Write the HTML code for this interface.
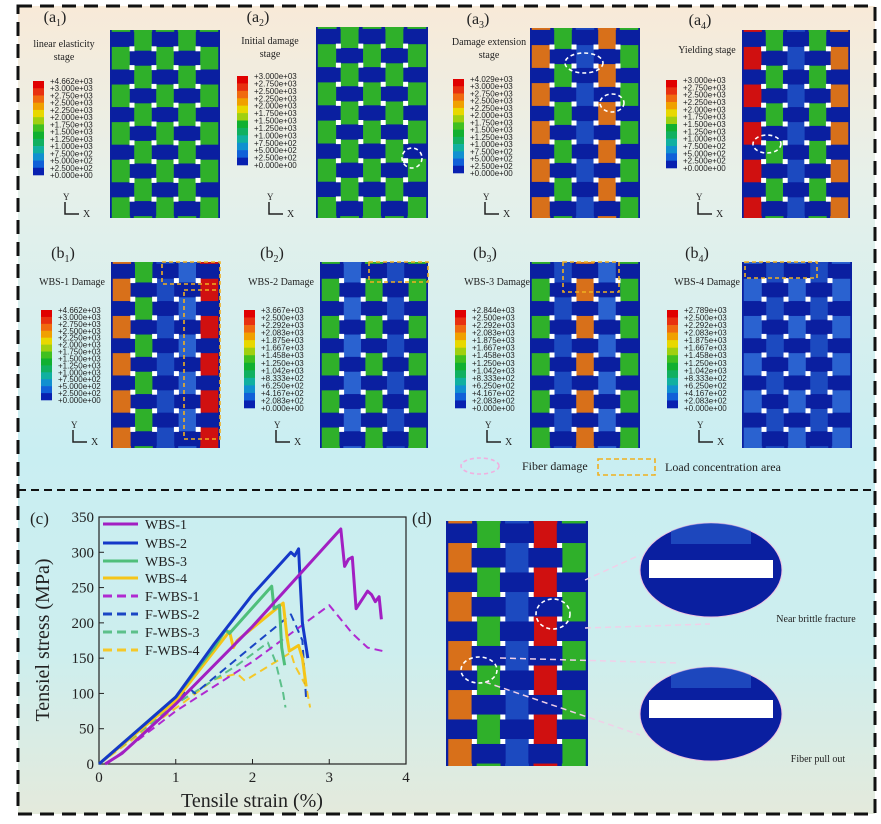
<!DOCTYPE html>
<html><head><meta charset="utf-8">
<style>
html,body{margin:0;padding:0;background:#fff}
svg{display:block;font-family:"Liberation Serif",serif}
</style></head>
<body>
<svg id="fig" width="881" height="824" viewBox="0 0 881 824" xmlns="http://www.w3.org/2000/svg">
<defs id="defs">
<linearGradient id="bg" x1="0" y1="0" x2="0" y2="1">
<stop offset="0" stop-color="#f8ead8"/>
<stop offset="0.22" stop-color="#e6f0ea"/>
<stop offset="0.55" stop-color="#c9eef2"/>
<stop offset="0.8" stop-color="#cdeeee"/>
<stop offset="1" stop-color="#e4eadc"/>
</linearGradient>
</defs>
<rect x="0" y="0" width="881" height="824" fill="#fff"/>
<rect x="18" y="6" width="857" height="808" fill="url(#bg)"/>
<rect x="18" y="6" width="857" height="808" fill="none" stroke="#111" stroke-width="3" stroke-dasharray="14,8"/>
<line x1="18" y1="490" x2="875" y2="490" stroke="#111" stroke-width="2" stroke-dasharray="8,5"/>
<g id="panels"></g>
<g id="chart"></g>
<g id="pd"></g>
</svg>
<script>
// ---------- chart data ----------
const seriesNames = ["WBS-1","WBS-2","WBS-3","WBS-4","F-WBS-1","F-WBS-2","F-WBS-3","F-WBS-4"];
const seriesColors = ["#a21fc2","#1538c8","#4fbf7a","#f5c518","#b02ad0","#1a46c4","#5cc08a","#f5c828"];
const seriesDashed = [false,false,false,false,true,true,true,true];
const strainWBS1 = [0.08,0.3,1.0,2.0,3.15,3.2,3.25,3.3,3.35,3.5,3.55,3.6,3.65,3.68];
const stressWBS1 = [0,15,85,195,333,280,290,293,220,245,240,230,237,205];
const strainWBS2 = [0,1.0,1.5,2.0,2.5,2.55,2.6,2.62,2.65,2.72];
const stressWBS2 = [0,95,170,240,300,295,305,260,200,150];
const strainWBS3 = [0,1.0,1.5,1.65,1.7,2.25,2.28,2.35,2.38,2.42];
const stressWBS3 = [0,95,165,190,185,252,220,225,165,140];
const strainWBS4 = [0,1.0,1.7,1.75,1.8,2.4,2.45,2.48,2.6,2.65,2.7];
const stressWBS4 = [0,90,188,165,175,228,180,160,168,150,110];
const strainF1 = [0.1,1.0,2.0,3.0,3.3,3.5,3.7];
const stressF1 = [0,75,145,225,185,165,160];
const strainF2 = [0,1.1,1.2,1.25,2.5,2.55,2.65,2.7];
const stressF2 = [0,100,105,100,212,200,175,90];
const strainF3 = [0,1.0,1.8,2.2,2.3,2.4,2.43];
const stressF3 = [0,85,140,172,145,100,80];
const strainF4 = [0,1.2,1.5,1.8,1.9,2.5,2.55,2.7,2.75];
const stressF4 = [0,95,120,128,118,158,140,110,80];
const xTicks = [0,1,2,3,4];
const yTicks = [0,50,100,150,200,250,300,350];

const NS="http://www.w3.org/2000/svg";
function mk(tag,attrs,parent,txt){const e=document.createElementNS(NS,tag);for(const k in attrs)e.setAttribute(k,attrs[k]);if(txt!==undefined)e.textContent=txt;parent.appendChild(e);return e;}

// ---------- chart ----------
(function(){
const g=document.getElementById('chart');
const X0=99,X1=406,Y0=764,Y1=517;
const sx=v=>X0+(v-0)/(4-0)*(X1-X0);
const sy=v=>Y0-(v-0)/(350-0)*(Y0-Y1);
const frame=mk('rect',{x:X0,y:Y1,width:X1-X0,height:Y0-Y1,fill:'none',stroke:'#222','stroke-width':1.2},g);


xTicks.forEach(t=>{
  const l=mk('line',{x1:sx(t),x2:sx(t),y1:Y0,y2:Y0-5,stroke:'#222'},g);
  
  
  const tx=mk('text',{x:sx(t),y:Y0+18,'text-anchor':'middle','font-size':15,fill:'#222'},g,String(t));
  
  
});
yTicks.forEach(t=>{
  const l=mk('line',{x1:X0,x2:X0+5,y1:sy(t),y2:sy(t),stroke:'#222'},g);
  
  
  const tx=mk('text',{x:X0-5,y:sy(t)+5,'text-anchor':'end','font-size':15,fill:'#222'},g,String(t));
  
  
});
const xs=[strainWBS1,strainWBS2,strainWBS3,strainWBS4,strainF1,strainF2,strainF3,strainF4];
const ys=[stressWBS1,stressWBS2,stressWBS3,stressWBS4,stressF1,stressF2,stressF3,stressF4];
for(let i=xs.length-1;i>=0;i--){
  const pts=xs[i].map((v,k)=>sx(v).toFixed(1)+','+sy(ys[i][k]).toFixed(1)).join(' ');
  const p=mk('polyline',{points:pts,fill:'none',stroke:seriesColors[i],'stroke-width':seriesDashed[i]?2:3,'stroke-dasharray':seriesDashed[i]?'8,5':'none','stroke-linejoin':'round'},g);
  
  
}
const legY=[524,543,561,578,596,614,632,650];
seriesNames.forEach((n,i)=>{
  const l=mk('line',{x1:103,x2:138,y1:legY[i],y2:legY[i],stroke:seriesColors[i],'stroke-width':3,'stroke-dasharray':seriesDashed[i]?'9,5':'none'},g);
  
  
  const t=mk('text',{x:145,y:legY[i]+5,'font-size':14,fill:'#222'},g,n);
  
  
});
const c=mk('text',{x:30,y:524,'font-size':17,fill:'#222'},g,'(c)');


const yt=mk('text',{x:0,y:0,'font-size':20,fill:'#222','text-anchor':'middle',transform:'translate(49,640) rotate(-90)'},g,'Tensiel stress (MPa)');


const xt=mk('text',{x:252,y:807,'font-size':20,fill:'#222','text-anchor':'middle'},g,'Tensile strain (%)');


})();

// ---------- FE panels ----------
const CB=["#e00000","#e83010","#f06a10","#f0a000","#e8d800","#a0d010","#40c020","#10b030","#10b060","#10b0a0","#1090d0","#1060d8","#0820b0"];
const BLUE="#0a1fa0";
const DEFS=document.getElementById('defs');
let clipN=0;
function weave(g,x,y,w,h,colCols,name){
  const cid='clip'+(clipN++);
  const cp=mk('clipPath',{id:cid},DEFS);
  mk('rect',{x:x,y:y,width:w,height:h},cp);
  const wg=mk('g',{'clip-path':'url(#'+cid+')'},g);
  const r=mk('rect',{x:x,y:y,width:w,height:h,fill:BLUE},wg);
  
  
  const nc=5,nr=10,cw=w/nc,rh=h/nr;
  for(let j=0;j<nc;j++){
    mk('rect',{x:x+j*cw+cw*0.08,y:y,width:cw*0.84,height:h,fill:colCols[j]},wg);
  }
  for(let i=0;i<nr;i++)for(let j=0;j<nc;j++){
    if((i+j)%2===0) mk('rect',{x:x+j*cw-cw*0.1,y:y+i*rh+rh*0.1,width:cw*1.2,height:rh*0.8,fill:BLUE},wg);
    if(j>0&&i>0) mk('rect',{x:x+j*cw-2.5,y:y+i*rh-2.5,width:5,height:5,fill:'#fff'},wg);
  }
}
function colorbar(g,x,y,h,labels){
  const n=labels.length-1, sh=h/n;
  for(let k=0;k<n;k++) mk('rect',{x:x,y:y+k*sh,width:11,height:sh+0.3,fill:CB[Math.round(k*(CB.length-1)/(n-1))]},g);
  labels.forEach((L,k)=>{
    mk('text',{x:x+17,y:y+k*sh+3,'font-size':8,fill:'#222','font-family':'Liberation Sans, sans-serif'},g,L);
  });
}
function axes(g,x,y){
  mk('text',{x:x,y:y-14,'font-size':9,fill:'#222'},g,'Y');
  mk('path',{d:`M${x+2} ${y-12} V${y} H${x+16}`,fill:'none',stroke:'#222','stroke-width':1.5},g);
  mk('text',{x:x+20,y:y+3,'font-size':10,fill:'#222'},g,'X');
}
const labA1=["+4.662e+03","+3.000e+03","+2.750e+03","+2.500e+03","+2.250e+03","+2.000e+03","+1.750e+03","+1.500e+03","+1.250e+03","+1.000e+03","+7.500e+02","+5.000e+02","+2.500e+02","+0.000e+00"];
const labA2=labA1.slice(1);
const labA3=["+4.029e+03"].concat(labA1.slice(1));
const labB2=["+3.667e+03","+2.500e+03","+2.292e+03","+2.083e+03","+1.875e+03","+1.667e+03","+1.458e+03","+1.250e+03","+1.042e+03","+8.333e+02","+6.250e+02","+4.167e+02","+2.083e+02","+0.000e+00"];
const labB3=["+2.844e+03"].concat(labB2.slice(1));
const labB4=["+2.789e+03"].concat(labB2.slice(1));
const G="#2fb02a",O="#d8701a",R="#d01010",B2="#1c4ac0",B3="#2a62d0";
const panels=[
 {id:'a1',lab:'a',sub:'1',lx:55,ly:22,t1:'linear elasticity',t2:'stage',tx:64,ty:47,mx:110,my:30,mw:110,mh:188,cbx:33,cby:81,cbh:94,labels:labA1,cols:[G,G,G,G,G]},
 {id:'a2',lab:'a',sub:'2',lx:258,ly:22,t1:'Initial damage',t2:'stage',tx:270,ty:44,mx:316,my:27,mw:112,mh:191,cbx:237,cby:76,cbh:89,labels:labA2,cols:[G,G,G,G,G]},
 {id:'a3',lab:'a',sub:'3',lx:478,ly:24,t1:'Damage extension',t2:'stage',tx:489,ty:45,mx:530,my:28,mw:110,mh:190,cbx:453,cby:79,cbh:94,labels:labA3,cols:[O,G,B2,O,G]},
 {id:'a4',lab:'a',sub:'4',lx:700,ly:25,t1:'Yielding stage',t2:'',tx:707,ty:53,mx:742,my:30,mw:108,mh:188,cbx:666,cby:80,cbh:88,labels:labA2,cols:[R,G,B2,G,O]},
 {id:'b1',lab:'b',sub:'1',lx:63,ly:258,t1:'WBS-1 Damage',t2:'',tx:72,ty:285,mx:111,my:262,mw:109,mh:186,cbx:41,cby:310,cbh:90,labels:labA1,cols:[O,G,B2,B3,R]},
 {id:'b2',lab:'b',sub:'2',lx:272,ly:258,t1:'WBS-2 Damage',t2:'',tx:281,ty:285,mx:320,my:262,mw:108,mh:186,cbx:244,cby:310,cbh:98,labels:labB2,cols:[G,B3,G,B2,G]},
 {id:'b3',lab:'b',sub:'3',lx:485,ly:258,t1:'WBS-3 Damage',t2:'',tx:497,ty:285,mx:530,my:262,mw:110,mh:186,cbx:455,cby:310,cbh:98,labels:labB3,cols:[G,B2,O,B3,G]},
 {id:'b4',lab:'b',sub:'4',lx:697,ly:258,t1:'WBS-4 Damage',t2:'',tx:707,ty:285,mx:742,my:262,mw:110,mh:186,cbx:667,cby:310,cbh:98,labels:labB4,cols:[B3,B2,B3,B2,B3]}
];
const P=document.getElementById('panels');
panels.forEach(p=>{
  const g=mk('g',{},P);
  
  
  const l=mk('text',{x:p.lx,y:p.ly,'font-size':16,fill:'#222','text-anchor':'middle'},g,'('+p.lab);
  mk('tspan',{'font-size':10,dy:4},l,p.sub);
  mk('tspan',{dy:-4},l,')');
  const t=mk('text',{x:p.tx,y:p.ty,'font-size':10,fill:'#222','text-anchor':'middle'},g,p.t1);
  
  
  if(p.t2) mk('text',{x:p.tx,y:p.ty+13,'font-size':10,fill:'#222','text-anchor':'middle'},g,p.t2);
  colorbar(g,p.cbx,p.cby,p.cbh,p.labels);
  weave(g,p.mx,p.my,p.mw,p.mh,p.cols,'contour-map-'+p.id);
  axes(g,p.cbx+30,p.id[0]==='a'?214:442);
});
function ell(g,cx,cy,rx,ry,c){mk('ellipse',{cx:cx,cy:cy,rx:rx,ry:ry,fill:'none',stroke:c||'#fff','stroke-width':1.6,'stroke-dasharray':'4,3'},g);}
ell(P,412,158,10,10);ell(P,584,63,19,10);ell(P,612,103,12,9);ell(P,767,144,14,9);
function orect(x,y,w,h){mk('rect',{x:x,y:y,width:w,height:h,fill:'none',stroke:'#f0b020','stroke-width':1.6,'stroke-dasharray':'4,3'},P);}
orect(162,262,58,22);orect(184,290,36,149);orect(369,262,59,20);orect(563,262,56,30);orect(745,262,72,16);
const lg=mk('g',{},P);


ell(lg,480,466,19,8,'#f0b0e0');
mk('text',{x:522,y:470,'font-size':12,fill:'#222'},lg,'Fiber damage');
mk('rect',{x:598,y:459,width:57,height:16,fill:'none',stroke:'#f0b020','stroke-width':1.6,'stroke-dasharray':'5,3'},lg);
mk('text',{x:665,y:471,'font-size':12,fill:'#222'},lg,'Load concentration area');
// panel d
const D=document.getElementById('pd');
mk('text',{x:412,y:524,'font-size':17,fill:'#222'},D,'(d)');
weave(D,446,521,142,245,[O,G,B2,R,G],'contour-map-d');
ell(D,553,614,17,15);ell(D,479,670,18,13);
function zoomE(cx,cy,gapY,name){
  const cid='clip'+(clipN++);
  const cp=mk('clipPath',{id:cid},DEFS);
  mk('ellipse',{cx:cx,cy:cy,rx:71,ry:47},cp);
  const e=mk('ellipse',{cx:cx,cy:cy,rx:71,ry:47,fill:BLUE,stroke:'#f0c0e0','stroke-width':1},D);
  
  
  const gg=mk('g',{'clip-path':'url(#'+cid+')'},D);
  mk('rect',{x:cx-40,y:cy-48,width:80,height:22,fill:'#2a62d0',opacity:0.6},gg);
  mk('rect',{x:cx-62,y:gapY,width:124,height:18,fill:'#fff'},gg);
}
zoomE(711,570,560,'zoom-brittle-fracture');zoomE(711,714,700,'zoom-fiber-pull-out');
mk('line',{x1:585,y1:580,x2:640,y2:555,stroke:'#f0d0e8','stroke-width':1.5,'stroke-dasharray':'6,4'},D);
mk('line',{x1:585,y1:628,x2:710,y2:624,stroke:'#f0d0e8','stroke-width':1.5,'stroke-dasharray':'6,4'},D);
mk('line',{x1:500,y1:658,x2:680,y2:663,stroke:'#f0d0e8','stroke-width':1.5,'stroke-dasharray':'6,4'},D);
mk('line',{x1:485,y1:682,x2:640,y2:735,stroke:'#f0d0e8','stroke-width':1.5,'stroke-dasharray':'6,4'},D);
mk('text',{x:816,y:622,'font-size':10,fill:'#222','text-anchor':'middle'},D,'Near brittle fracture');
mk('text',{x:818,y:762,'font-size':10,fill:'#222','text-anchor':'middle'},D,'Fiber pull out');
</script>
</body></html>
